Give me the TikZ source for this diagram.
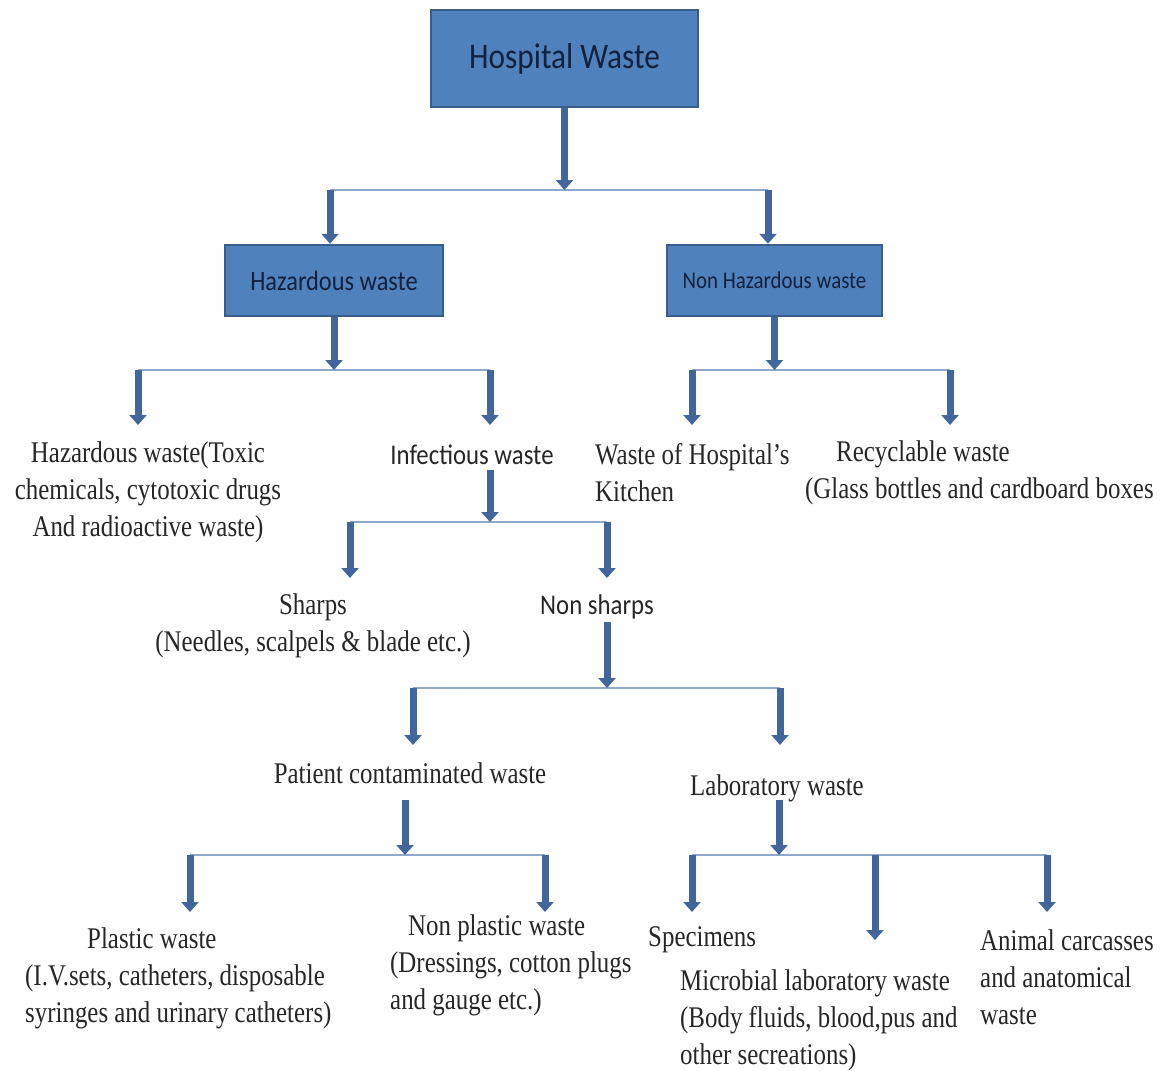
\documentclass[tikz,border=0pt]{standalone}
\usepackage{fontspec}
\setmainfont[FakeStretch=0.83]{Liberation Serif}
\newfontfamily\boxsans[FakeStretch=0.87]{Carlito}
\usetikzlibrary{arrows.meta,positioning}
\definecolor{boxfill}{HTML}{4F81BD}
\definecolor{boxline}{HTML}{385D8A}
\definecolor{boxtext}{HTML}{14213D}
\definecolor{flowblue}{HTML}{41669B}
\definecolor{busline}{HTML}{8FA8CC}
\definecolor{plaintext}{HTML}{262626}

\begin{document}
\begin{tikzpicture}
[x=1pt,y=-1pt,
  wastebox/.style={draw=boxline,line width=2.5pt,fill=boxfill,text=boxtext,inner sep=0pt},%
  wastetext/.style={text=plaintext,inner sep=0pt,font=\fontsize{30}{37}\selectfont},%
  sanstext/.style={text=plaintext,inner sep=0pt,font=\boxsans\fontsize{28.5}{34}\selectfont},%
  flow/.style={draw=flowblue,line width=7pt,-{Triangle[width=17pt,length=10pt]}},%
  bus/.style={draw=busline,line width=2pt}]
\useasboundingbox (0,0) rectangle (1163,1071);
%% boxes
\node (hosp) at (564.5,58.5) [wastebox,minimum width=267pt,minimum height=97pt,
  font=\boxsans\fontsize{36}{40}\selectfont] {Hospital Waste};
\node (haz) at (334,280.5) [wastebox,minimum width=218pt,minimum height=71pt,
  font=\boxsans\fontsize{28}{32}\selectfont] {Hazardous waste};
\node (nonhaz) at (774.5,280.5) [wastebox,minimum width=215pt,minimum height=71pt,
  font=\boxsans\fontsize{24}{28}\selectfont] {Non Hazardous waste};
%% texts
\node (haztox) at (148,492) [wastetext,align=center]
  {Hazardous waste(Toxic\\chemicals, cytotoxic drugs\\And radioactive waste)};
\node (infect) at (472,455) [sanstext] {Infectious waste};
\node (kitchen) at (595,473) [wastetext,anchor=west,align=left]
  {Waste of Hospital's\\Kitchen};
\node (recyc) at (805,473) [wastetext,anchor=west,align=left]
  {\hspace*{31pt}Recyclable waste\\(Glass bottles and cardboard boxes};
\node (sharps) at (313,626) [wastetext,align=center]
  {Sharps\\(Needles, scalpels \& blade etc.)};
\node (nonsharps) at (597,607) [sanstext] {Non sharps};
\node (patient) at (410,773) [wastetext] {Patient contaminated waste};
\node (lab) at (777,788) [wastetext] {Laboratory waste};
\node (plastic) at (25,978) [wastetext,anchor=west,align=left]
  {\hspace*{62pt}Plastic waste\\(I.V.sets, catheters, disposable\\syringes and urinary catheters)};
\node (nonplastic) at (390,965) [wastetext,anchor=west,align=left]
  {\hspace*{18pt}Non plastic waste\\(Dressings, cotton plugs\\and gauge etc.)};
\node (specimens) at (648,940) [wastetext,anchor=west] {Specimens};
\node (microbial) at (680,1020) [wastetext,anchor=west,align=left]
  {Microbial laboratory waste\\(Body fluids, blood,pus and\\other secreations)};
\node (animal) at (980,977) [wastetext,anchor=west,align=left]
  {Animal carcasses\\and anatomical\\waste};
%% bus points
\foreach \busname/\x/\y in {
  hospL/330/190, hospM/564.5/190, hospR/768/190,
  hazL/138/370, hazM/334/370, hazR/490/370,
  nonhazL/692/370, nonhazM/774.5/370, nonhazR/950/370,
  infectT/490/470, infectL/350/522, infectM/490/522, infectR/607/522,
  nonsharpsT/607/622, nonsharpsL/413/688, nonsharpsM/607/688, nonsharpsR/780/688,
  patientT/405/800, patientL/190/855, patientM/405/855, patientR/545/855,
  labT/779/800, labL/692/855, labM/779/855, labC/875/855, labR/1047/855}
{
  \coordinate (\busname) at (\x,\y);
}
%% bus lines
\foreach \startnode/\endnode in {hospL/hospR, hazL/hazR, nonhazL/nonhazR,
  infectL/infectR, nonsharpsL/nonsharpsR, patientL/patientR, labL/labR}
{
  \draw[bus] (\startnode) -- (\endnode);
}
%% arrows
\draw[flow] (hosp.south) -- (hospM);
\draw[flow] (hospL) -- (hospL |- haz.north);
\draw[flow] (hospR) -- (hospR |- nonhaz.north);
\draw[flow] (haz.south) -- (hazM);
\draw[flow] (nonhaz.south) -- (nonhazM);
\draw[flow] (infectT) -- (infectM);
\draw[flow] (nonsharpsT) -- (nonsharpsM);
\draw[flow] (patientT) -- (patientM);
\draw[flow] (labT) -- (labM);
\foreach \startnode/\y in {hazL/425, hazR/425, nonhazL/425, nonhazR/425,
  infectL/578, infectR/578, nonsharpsL/745, nonsharpsR/745,
  patientL/912, patientR/912, labL/912, labC/940, labR/912}
{
  \draw[flow] (\startnode) -- (\startnode |- 0,\y);
}
\end{tikzpicture}
\end{document}
